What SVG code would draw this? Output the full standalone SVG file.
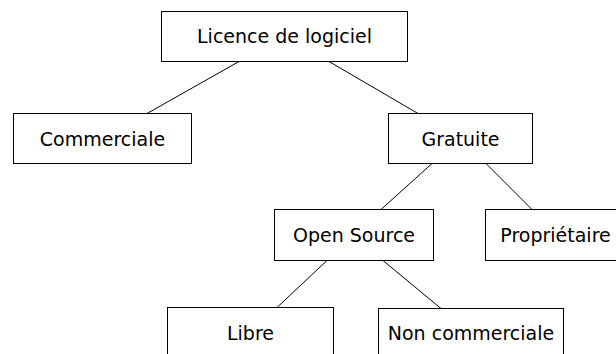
<svg xmlns="http://www.w3.org/2000/svg" width="616" height="354" viewBox="0 0 616 354">
<style>
.box{fill:#fff;stroke:#000;stroke-width:1}
.lbl{font-family:"DejaVu Sans",sans-serif;font-size:19px;fill:#000;text-anchor:middle}
.edge{stroke:#000;stroke-width:1;fill:none}
</style>
<rect width="616" height="354" fill="#fff"/>
<g id="connectors">
<line class="edge" x1="239" y1="61.5" x2="147" y2="113.5"/>
<line class="edge" x1="329" y1="61.5" x2="418" y2="113.5"/>
<line class="edge" x1="432" y1="163.5" x2="381" y2="209.5"/>
<line class="edge" x1="486" y1="163.5" x2="532" y2="209.5"/>
<line class="edge" x1="327" y1="260.5" x2="277" y2="307.5"/>
<line class="edge" x1="383" y1="260.5" x2="441" y2="308.5"/>
</g>
<g id="licence">
<rect class="box" x="161.5" y="11.5" width="246" height="50"/>
<text class="lbl" x="284.5" y="43">Licence de logiciel</text>
</g>
<g id="commerciale">
<rect class="box" x="13.5" y="113.5" width="178" height="50"/>
<text class="lbl" x="102.5" y="145.5">Commerciale</text>
</g>
<g id="gratuite">
<rect class="box" x="388.5" y="113.5" width="144" height="50"/>
<text class="lbl" x="460.5" y="145.5">Gratuite</text>
</g>
<g id="opensource">
<rect class="box" x="274.5" y="209.5" width="159" height="51"/>
<text class="lbl" x="354" y="241.5">Open Source</text>
</g>
<g id="proprietaire">
<rect class="box" x="485.5" y="209.5" width="140" height="51"/>
<text class="lbl" x="555.5" y="241.5">Propriétaire</text>
</g>
<g id="libre">
<rect class="box" x="167.5" y="307.5" width="166" height="51"/>
<text class="lbl" x="250.5" y="339.5">Libre</text>
</g>
<g id="noncommerciale">
<rect class="box" x="378.5" y="308.5" width="185" height="51"/>
<text class="lbl" x="471" y="339.5">Non commerciale</text>
</g>
</svg>
